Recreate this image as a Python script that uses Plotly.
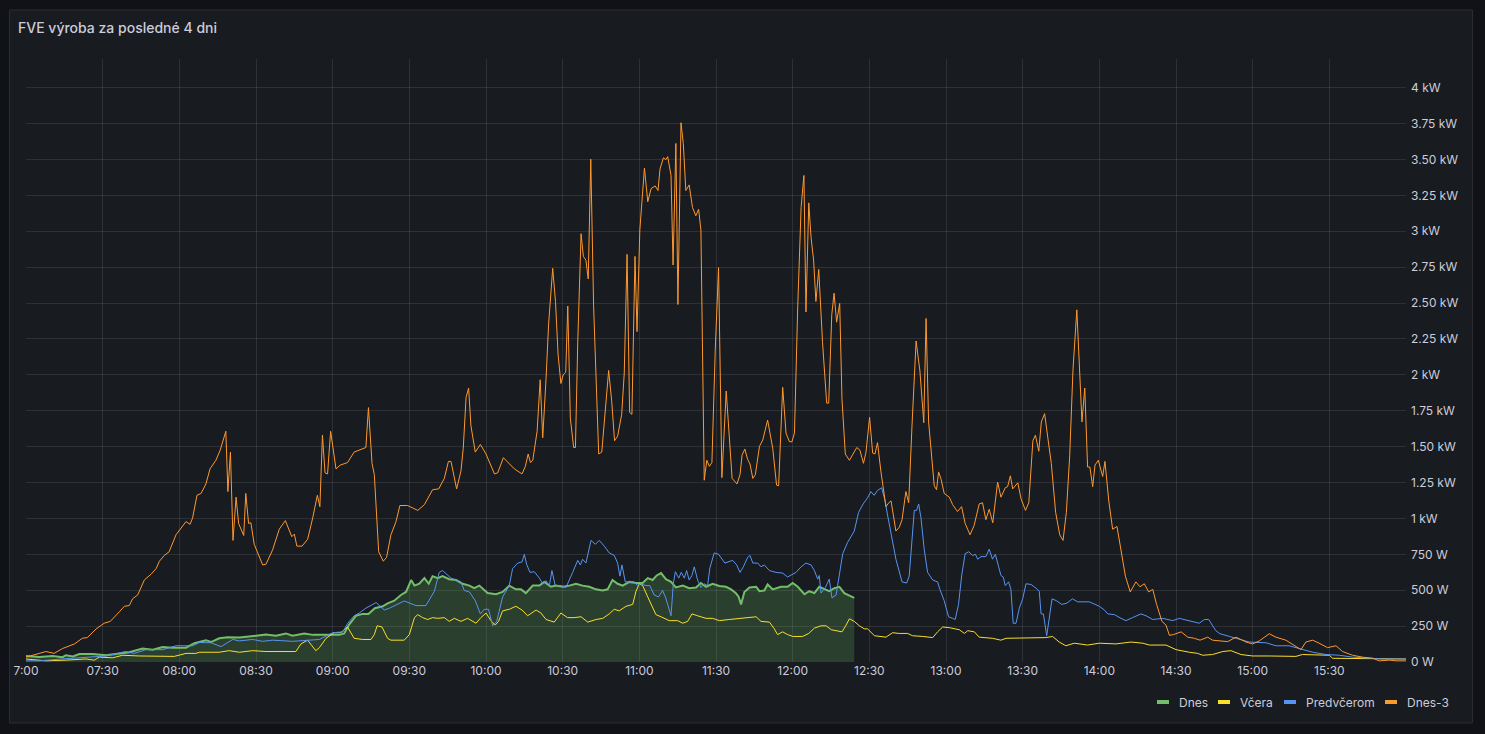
import pandas as pd
import plotly.graph_objects as go

# minutes after 07:00 and power in W
dnes_t = [0, 5.2, 10.4, 14.3, 15.6, 18.3, 20.9, 26.1, 31.3, 35.2, 40.4, 45.6, 49.6, 53.5, 57.4, 62.6,
          65.9, 70.4, 72.4, 75.6, 78.9, 83.5, 88.7, 93.9, 97.8, 101.7, 104.3, 108.9, 112.2, 117.4, 122.6,
          124.5, 126.5, 129.1, 131.7, 134, 136.5, 139.6, 141.5, 144.1, 146.7, 148.7, 150.7, 152, 153.9,
          155.9, 157.6, 159.1, 161.1, 163, 165.6, 168.3, 170.9, 173.5, 175.4, 177.4, 180.6, 183.9, 186.5,
          189.1, 191.7, 193.7, 195.6, 198.3, 200.9, 202.8, 205.4, 207.4, 210, 212.6, 215.2, 217.8, 220.4,
          223, 225.6, 227.6, 229.5, 231.5, 233.5, 236.1, 238.7, 241.3, 243.3, 245.2, 246.8, 248.5, 250.4,
          252.4, 254.3, 257, 259.5, 262.2, 264.1, 266.1, 268.7, 271.3, 273.9, 275.9, 277.8, 278.9, 279.8,
          281.1, 283.1, 285.7, 287, 288.9, 290.2, 292.2, 295.4, 298, 300, 302, 304.6, 306.5, 308.5, 310.4,
          312.4, 314.3, 316.3, 318.3, 320.2, 322.2, 324.1]
dnes_w = [42, 34, 42, 34, 47, 39, 55, 55, 47, 55, 68, 94, 86, 105, 100, 100,
          131, 152, 139, 165, 173, 170, 183, 191, 183, 199, 183, 199, 189, 189, 189,
          199, 262, 322, 335, 335, 375, 388, 409, 427, 467, 488, 571, 532, 545,
          584, 545, 598, 584, 598, 577, 571, 545, 532, 514, 532, 480, 472, 488,
          532, 506, 506, 480, 532, 532, 558, 524, 532, 524, 532, 545, 532, 524,
          506, 498, 506, 571, 545, 532, 558, 550, 550, 584, 571, 603, 619, 577,
          558, 519, 532, 514, 519, 550, 524, 545, 530, 524, 506, 480, 453, 401,
          488, 519, 524, 493, 498, 540, 506, 524, 524, 550, 524, 472, 493, 480, 524,
          506, 493, 514, 524, 480, 461, 446]

vcera_t = [0, 7.8, 15.6, 23.5, 26.7, 28.7, 33.9, 37.8, 44.3, 52.2, 58, 62.6, 66.5, 67.8, 75.6, 79.5,
           83.5, 88.7, 93.9, 105.6, 107.6, 110.2, 111.9, 113.4, 114.8, 117.4, 120.6, 123.2, 125.8, 128.4,
           131.7, 135, 136.3, 137.4, 139.3, 141.5, 142.8, 148, 150, 152, 153.3, 155.2, 157.2, 159.1, 161.1,
           163.7, 165.6, 167.6, 170.2, 172.8, 176.1, 178, 180, 181.9, 183.6, 184.9, 186.5, 189.1, 191.7,
           194.1, 196.3, 199.6, 201.5, 203.5, 206.7, 209.3, 211.9, 214.5, 217.2, 219.8, 223.1, 225.7, 228.2,
           230.2, 232.1, 234.8, 237.4, 238.7, 240, 241.3, 243.3, 245, 246.5, 248.5, 251.7, 255, 257, 258.9,
           260.6, 262.8, 266.1, 268.7, 271.3, 275.2, 279.1, 281.7, 285.7, 287.6, 290.9, 292.8, 294.1, 296.1,
           298, 300, 303.9, 306.3, 308.5, 311.1, 313.1, 315.1, 317, 319.3, 320.9, 322.2, 324.1, 326.1, 328,
           329.3, 332, 336.5, 339.1, 341.7, 345, 346.9, 350.9, 354.8, 356.7, 358.7, 361.3, 365.2, 367.2,
           368.5, 371.1, 373, 378.2, 381.5, 383.5, 388.7, 393.9, 399.1, 401.7, 404.3, 406.9, 410.2, 415.4,
           420, 426.5, 432.4, 437, 439.6, 446.1, 450, 455.2, 458.5, 460.4, 464.3, 468.3, 471.5, 475.4, 480,
           486.5, 491.7, 496.9, 499.5, 504.8, 510, 511.3, 517.8, 525.6, 530.8, 540]
vcera_w = [21, 8, 13, 21, 13, 34, 29, 47, 42, 39, 39, 60, 60, 68, 68, 79,
           68, 79, 73, 73, 126, 152, 113, 79, 100, 165, 204, 204, 244, 165,
           157, 157, 191, 252, 244, 165, 152, 152, 191, 309, 330, 309, 296, 309, 304,
           309, 283, 304, 283, 304, 270, 309, 341, 288, 257, 283, 356, 367, 388,
           362, 322, 362, 341, 296, 278, 341, 309, 309, 315, 278, 296, 304, 335,
           367, 356, 388, 401, 493, 545, 532, 453, 388, 330, 315, 288, 288, 270, 283,
           335, 322, 304, 304, 288, 296, 304, 309, 315, 283, 278, 231, 191, 210,
           191, 178, 178, 199, 236, 252, 252, 225, 218, 210, 257, 301, 283, 252, 231,
           231, 183, 173, 204, 199, 199, 183, 178, 170, 210, 244, 239, 225, 199,
           218, 210, 173, 165, 152, 165, 165, 165, 170, 178, 139, 113, 131, 118,
           131, 126, 139, 131, 118, 118, 86, 68, 60, 47, 52, 73, 79, 52, 42,
           42, 39, 39, 52, 47, 47, 26, 26, 26, 21, 21]

predvcerom_t = [0, 5, 14, 23.5, 31.3, 39, 42.4, 47, 53.5, 58.7, 65.2, 67.8, 72.4, 76.3, 80.9, 83.5,
                88.7, 92.6, 96.5, 104.3, 109.5, 114.8, 120, 124, 125.9, 128.4, 130.4, 133, 137, 140.2,
                142.2, 148, 152.6, 156.5, 159.8, 161.7, 163, 166.3, 170.2, 171.5, 173.5, 175.8, 177.8,
                179.3, 181, 182.6, 184.2, 186.5, 189.1, 190.4, 192.4, 194.1, 195, 195.9, 197.2, 198.9,
                200.9, 202.2, 203.5, 204.8, 205.8, 207.1, 209.3, 211.3, 213.9, 215.9, 216.9, 217.8, 219.1,
                221.1, 222.8, 224.3, 226.3, 228.2, 230.2, 231.5, 232.4, 233.2, 234.5, 236.1, 238, 239.3,
                240.6, 242.6, 244.1, 245.8, 247.5, 249.1, 250.2, 251.1, 252.4, 253.3, 254.1, 255.4, 256.4,
                257.6, 258.5, 259.5, 260.6, 261.5, 262.8, 264.1, 265.4, 266.7, 267.6, 269.3, 271, 273.5,
                276.5, 278.1, 279.4, 280.7, 282.4, 283.3, 284.4, 286.3, 287.6, 288.9, 290.9, 293.5, 296.1,
                298, 299.3, 301.3, 303.3, 305.2, 307.2, 308.5, 309.8, 310.4, 311.1, 312.8, 314.3, 315.4,
                317, 318, 319.6, 321.5, 324.1, 325.8, 327.6, 329.3, 330.6, 331.9, 333.2, 334.8, 336.1,
                337.2, 338.5, 340.4, 342.8, 344.6, 345.6, 346.7, 347.6, 348.5, 349.3, 350.2, 351.5, 352.8,
                354.8, 356.7, 357.6, 359.3, 361, 362.6, 363.6, 364.9, 366.2, 367.5, 368.9, 370.4, 371.5,
                372.4, 373.7, 375.6, 376.9, 378.2, 379.3, 380.6, 381.5, 382.4, 383.2, 384.5, 385.4, 386.3,
                387.4, 388.7, 390, 391.3, 393.3, 395.2, 396.5, 397.2, 398.1, 399.4, 400.2, 401.5, 403.2,
                405.3, 407.3, 409.5, 411.5, 416.1, 420, 422, 423.3, 425.9, 428.5, 430.4, 433, 436.3, 438.3,
                440.9, 444.8, 448.7, 451.3, 455.2, 459.1, 461.1, 462.8, 465.6, 467.2, 470.9, 473.5, 478.7,
                485.2, 489.1, 494.3, 499.5, 503.5, 508.7, 513.9, 519.1, 525.6, 530.8, 540]
predvcerom_w = [8, 8, 21, 34, 42, 73, 60, 86, 86, 113, 113, 136, 134, 107, 157, 147,
                157, 144, 152, 144, 152, 157, 204, 210, 270, 322, 341, 375, 414, 362,
                375, 425, 393, 393, 493, 624, 637, 584, 558, 498, 488, 427, 335,
                367, 367, 252, 283, 453, 532, 650, 689, 697, 750, 681, 624, 629,
                584, 545, 566, 532, 637, 532, 532, 519, 624, 708, 676, 716, 689,
                847, 820, 847, 807, 760, 742, 689, 598, 676, 558, 558, 558, 532,
                545, 532, 532, 467, 453, 498, 453, 401, 322, 545, 629, 584, 624,
                584, 637, 571, 603, 663, 571, 519, 545, 532, 655, 760, 750, 689,
                708, 676, 624, 663, 729, 742, 689, 689, 663, 676, 637, 624, 619,
                592, 603, 624, 663, 689, 676, 637, 577, 603, 480, 519, 577, 446,
                467, 571, 755, 833, 912, 1043, 1101, 1143, 1187, 1161, 1195, 1214, 1127,
                1017, 886, 716, 558, 550, 598, 847, 1056, 1056, 1101, 1004, 781, 624,
                571, 558, 506, 427, 315, 304, 296, 401, 611, 755, 768, 742, 750,
                716, 734, 734, 786, 716, 750, 663, 603, 592, 532, 558, 506, 270,
                270, 375, 440, 545, 540, 514, 493, 335, 335, 183, 283, 440, 427,
                401, 410, 440, 419, 419, 388, 362, 335, 330, 304, 288, 309, 335, 322,
                296, 304, 288, 304, 288, 270, 296, 296, 218, 197, 178, 165, 139,
                134, 113, 113, 86, 68, 52, 47, 34, 26, 21, 21]

dnes3_t = [0, 7.8, 11, 14.3, 19, 22, 24, 27.4, 30.6, 33, 36.5, 38.5, 40.4, 41.7, 43.7, 46.3, 48.9,
           50.9, 52.2, 54.1, 56, 58.7, 62.6, 64.2, 65.2, 66.9, 68.5, 70.4, 72, 74.3, 76, 78.2, 79, 80,
           81, 82.2, 83.2, 85.2, 86, 87.1, 88, 89.3, 92.6, 93.9, 96.5, 99.1, 101.5, 104, 105, 106, 108,
           110.2, 112.2, 114, 115, 116, 117, 118, 119.2, 121.3, 122.9, 125.8, 128.4, 130.4, 133, 134,
           135.4, 136.3, 138, 139.8, 141.1, 142.8, 144.8, 146.3, 149.3, 153.3, 155.9, 159.1, 161.5,
           163.7, 165.3, 166.3, 168.5, 170.2, 171.1, 172.2, 173.2, 174.1, 175.8, 177.8, 180, 183.3,
           184.6, 186.8, 189.1, 191.1, 194.1, 195.4, 196.5, 197.4, 198.3, 200, 201.2, 202.2, 203.5,
           204.5, 206.1, 207.2, 208.2, 209.3, 210.2, 211.2, 212, 213, 214.3, 215, 215.9, 217.2, 218.1,
           219.1, 220, 221, 222.1, 224.1, 225.3, 227, 228, 229.2, 230.3, 231.5, 233.1, 234.1, 235.2,
           236.2, 237.1, 238.3, 239.1, 240.2, 241.3, 242, 243.3, 244.6, 246.2, 247.3, 248.1, 249.4,
           250.4, 251.1, 252.4, 253.2, 254.3, 255.1, 256.3, 257.2, 258.2, 259.5, 260.8, 262.1, 263.2,
           264.1, 265.4, 266.4, 267.4, 268.4, 269.7, 271, 272.3, 274, 276.3, 278.2, 279.4, 280.2, 281.3,
           282.4, 283.3, 284.4, 285.4, 287, 288.3, 290.2, 292.2, 293.7, 294.5, 296.1, 297.4, 298.7,
           299.7, 300.7, 302, 303.3, 304.4, 305.2, 306.3, 307.2, 308.2, 309.1, 310.2, 311.7, 313.3,
           314.1, 315.3, 316.2, 317.2, 318.4, 319.3, 320.6, 322.2, 323.5, 325.1, 326.3, 327.7, 328.7,
           330.1, 331.3, 332.2, 333.2, 334.5, 336.5, 337.6, 338.5, 340.4, 341.7, 342.8, 344.3, 345.4,
           346.7, 348.3, 349.8, 351.3, 352.2, 353.2, 355.4, 356.3, 357.1, 358, 359.3, 361.3, 362.6,
           364.5, 366.1, 367.5, 369.4, 371, 373, 374.3, 375.6, 376.9, 378.3, 380.2, 381.5, 383.2, 384.1,
           385.2, 386.1, 388.1, 389.4, 391.1, 392.4, 394, 395, 396.3, 397.3, 398.6, 399.9, 401.2, 402.9,
           404.5, 405.8, 407.1, 408.4, 409.7, 411.2, 412.2, 413.2, 414.3, 415.4, 416.3, 417.4, 418.3,
           419.6, 421.3, 422.2, 423.7, 425.2, 426.9, 428.5, 430.2, 432.1, 434.3, 435.9, 437.6, 439.3,
           440.9, 442.4, 444.5, 446.1, 447.4, 449, 452, 454.6, 457.2, 459.4, 462.4, 464.3, 470.2, 473.5,
           477.4, 480, 482.6, 486.5, 489.1, 493, 496.3, 498.9, 500.8, 503.5, 506, 509.3, 512.6, 515.2,
           519.1, 523, 527, 529.6, 533.5, 536.1, 540]
dnes3_w = [34, 73, 60, 94, 126, 165, 170, 230, 270, 283, 349, 388, 393, 440, 467, 571, 611,
           650, 702, 742, 768, 886, 978, 959, 1004, 1161, 1174, 1240, 1345, 1405, 1476, 1607, 1187, 1462,
           847, 1148, 965, 881, 1174, 965, 970, 820, 676, 681, 781, 925, 985, 873, 891, 807, 807,
           854, 1004, 1161, 1082, 1580, 1318, 1310, 1607, 1345, 1371, 1389, 1462, 1476, 1494, 1772,
           1384, 1305, 768, 702, 729, 886, 978, 1090, 1090, 1056, 1096, 1200, 1206,
           1279, 1397, 1397, 1206, 1331, 1489, 1843, 1908, 1646, 1462, 1515, 1449, 1310,
           1318, 1423, 1384, 1345, 1310, 1363, 1449, 1389, 1405, 1607, 1966, 1562, 1974,
           2354, 2742, 2511, 2144, 1940, 2000, 2018, 2479, 1698, 1494, 1494, 2223, 2983, 2825,
           2799, 2668, 3502, 2485, 1449, 1462, 1829, 2031, 1816, 1541, 1573, 1725, 2013, 2839,
           1738, 1725, 2825, 2301, 3009, 3271, 3441, 3206, 3297, 3316, 3284, 3434, 3512,
           3499, 3520, 3389, 2765, 3612, 2490, 3756, 3612, 3284, 3323, 3166, 3108, 3153,
           3009, 1266, 1405, 1363, 1389, 2170, 2747, 1284, 1887, 1279, 1240, 1305, 1442, 1483,
           1410, 1379, 1279, 1305, 1502, 1546, 1685, 1489, 1232, 1227, 1913, 1594, 1536,
           1533, 1594, 2485, 3166, 3389, 2438, 3198, 2956, 2799, 2511, 2734, 2223, 1803,
           1803, 2419, 2569, 2367, 2498, 1829, 1449, 1405, 1449, 1494, 1476, 1384, 1462,
           1704, 1455, 1449, 1528, 1331, 1082, 1109, 1122, 912, 938, 991, 1187, 1109,
           1646, 2236, 2026, 1667, 2393, 1672, 1227, 1200, 1324, 1279, 1174, 1148, 1096,
           1048, 1082, 965, 886, 951, 1101, 1109, 991, 1064, 970, 1253, 1148, 1214, 1221,
           1297, 1206, 1248, 1135, 1056, 1109, 1541, 1580, 1468, 1672, 1730, 1554, 1384, 1043,
           886, 847, 1043, 1436, 2039, 2453, 2013, 1672, 1908, 1358, 1358, 1221, 1371,
           1405, 1292, 1397, 1122, 925, 944, 768, 598, 488, 558, 524, 545, 488,
           506, 401, 283, 257, 186, 191, 210, 173, 165, 152, 173, 152, 142, 173,
           139, 126, 147, 197, 173, 152, 113, 86, 139, 152, 131, 100, 113, 73,
           47, 34, 26, 8, 13, 8, 8]

y_ticks = [0, 250, 500, 750, 1000, 1250, 1500, 1750, 2000, 2250, 2500, 2750, 3000, 3250, 3500, 3750, 4000]
y_labels = ["0 W", "250 W", "500 W", "750 W", "1 kW", "1.25 kW", "1.50 kW", "1.75 kW", "2 kW",
            "2.25 kW", "2.50 kW", "2.75 kW", "3 kW", "3.25 kW", "3.50 kW", "3.75 kW", "4 kW"]
x_labels = ["7:00", "07:30", "08:00", "08:30", "09:00", "09:30", "10:00", "10:30", "11:00",
            "11:30", "12:00", "12:30", "13:00", "13:30", "14:00", "14:30", "15:00", "15:30"]

start = pd.Timestamp("2024-05-14 07:00")


def tm(mins):
    return start + pd.to_timedelta(mins, unit="min")


series = [
    ("Dnes", dnes_t, dnes_w, "#73bf69"),
    ("Včera", vcera_t, vcera_w, "#fade2a"),
    ("Predvčerom", predvcerom_t, predvcerom_w, "#5794f2"),
    ("Dnes-3", dnes3_t, dnes3_w, "#ff9830"),
]

TXT = "#ccccdc"
GRID = "rgba(240,250,255,0.10)"

# plot area in pixels of the 1485x734 page
L, R, T, B = 26, 1406, 59, 662


def px_x(x):
    return (x - L) / (R - L)


def px_y(y):
    return (B - y) / (B - T)


fig = go.Figure()
for name, t, w, col in series:
    if name == "Dnes":
        fig.add_trace(go.Scatter(x=tm(t), y=w, name=name, mode="lines",
                                 line=dict(color=col, width=2), fill="tozeroy",
                                 fillcolor="rgba(115,191,105,0.22)"))
    else:
        fig.add_trace(go.Scatter(x=tm(t), y=w, name=name, mode="lines",
                                 line=dict(color=col, width=1)))

# panel background + border
shapes = [dict(type="rect", xref="paper", yref="paper", layer="below",
               x0=px_x(9.5), x1=px_x(1472.5), y0=px_y(723), y1=px_y(10),
               fillcolor="#181b1f", line=dict(color="#2a2c31", width=1))]

# legend drawn by hand (Grafana style short bars)
annotations = []
leg_x = [1157, 1218, 1284, 1385]
for (name, _, _, col), lx in zip(series, leg_x):
    shapes.append(dict(type="line", xref="paper", yref="paper",
                       x0=px_x(lx), x1=px_x(lx + 12), y0=px_y(702), y1=px_y(702),
                       line=dict(color=col, width=4)))
    annotations.append(dict(xref="paper", yref="paper", x=px_x(lx + 20), y=px_y(702),
                            text=name, showarrow=False, xanchor="left", yanchor="middle",
                            font=dict(size=12, color=TXT)))

fig.update_layout(
    width=1485, height=734,
    margin=dict(l=L, r=1485 - R, t=T, b=734 - B),
    paper_bgcolor="#111217",
    plot_bgcolor="rgba(0,0,0,0)",
    font=dict(family="Inter, Roboto, sans-serif", size=12, color=TXT),
    title=dict(text="FVE výroba za posledné 4 dni", xref="container", yref="container",
               x=18 / 1485, xanchor="left", y=1 - 28 / 734, yanchor="middle",
               font=dict(size=14, color=TXT, weight=500)),
    showlegend=False,
    shapes=shapes,
    annotations=annotations,
    xaxis=dict(type="date", range=[tm(0), tm(540)],
               tickvals=tm([30 * i for i in range(len(x_labels))]), ticktext=x_labels,
               showgrid=True, gridcolor=GRID, gridwidth=1, zeroline=False, showline=False,
               ticks="", tickfont=dict(size=12, color=TXT)),
    yaxis=dict(range=[0, 4200], side="right", tickvals=y_ticks, ticktext=y_labels,
               showgrid=True, gridcolor=GRID, gridwidth=1, zeroline=False, showline=False,
               ticks="", ticklabelstandoff=4, tickfont=dict(size=12, color=TXT)),
)

# drop the default 8px page margin so the figure sits at the window origin
page_css = "document.body.style.margin='0';document.body.style.background='#111217';"
fig.write_html("out.html", post_script=page_css, config={"displayModeBar": False})
